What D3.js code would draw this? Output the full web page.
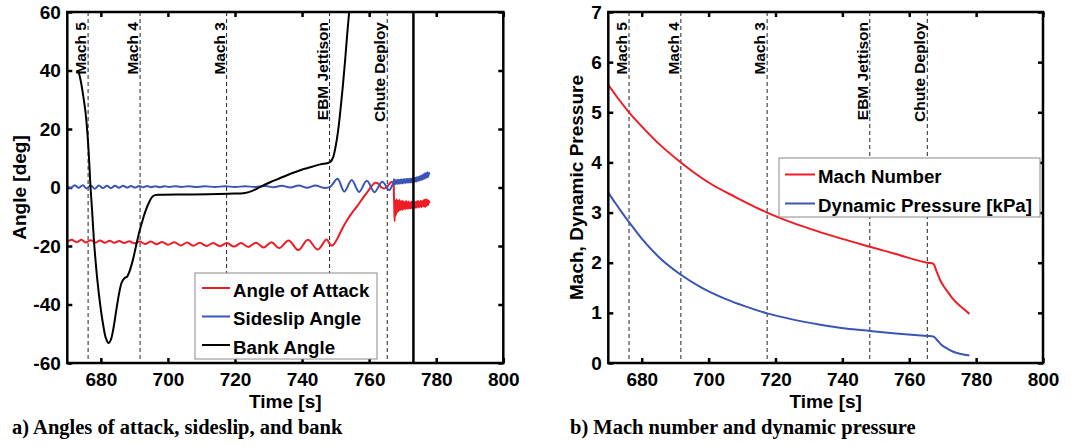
<!DOCTYPE html>
<html><head><meta charset="utf-8">
<script src="https://cdn.jsdelivr.net/npm/d3@7"></script>
<style>
body{margin:0;background:#fff;}
svg{display:block;}
text{font-family:"Liberation Sans",Arial,Helvetica,sans-serif;font-weight:bold;fill:#000;}
</style></head><body>
<svg id="c" width="1082" height="446"></svg>
<script>
// ---------- data ----------
const xTicks = [680,700,720,740,760,780,800];
const xTickLabels = ["680","700","720","740","760","780","800"];
const angleTicks = [-60,-40,-20,0,20,40,60];
const angleTickLabels = ["-60","-40","-20","0","20","40","60"];
const machTicks = [0,1,2,3,4,5,6,7];
const machTickLabels = ["0","1","2","3","4","5","6","7"];
const eventNames = ["Mach 5","Mach 4","Mach 3","EBM Jettison","Chute Deploy"];
const eventTimes = [676.2,691.7,717.5,748.2,765.4];
const lossTime = 773.2;
const legendA = ["Angle of Attack","Sideslip Angle","Bank Angle"];
const legendB = ["Mach Number","Dynamic Pressure [kPa]"];
const captionA = "a) Angles of attack, sideslip, and bank";
const captionB = "b) Mach number and dynamic pressure";

// angle of attack [time s, deg]
const aoa = [[670,-18.6],[671.3,-17.9],[672.8,-18.7],[674.2,-17.9],[675.6,-18.8],[677.0,-18.0],[678.4,-18.8],[679.8,-18.1],
 [681.2,-18.9],[682.6,-18.2],[684.0,-18.9],[685.5,-18.3],[687.0,-19.0],[688.5,-18.4],[690.0,-19.1],[691.6,-18.5],
 [693.2,-19.3],[694.9,-18.5],[696.6,-19.4],[698.3,-18.6],[700.1,-19.6],[701.9,-18.7],[703.8,-19.8],[705.7,-18.8],
 [707.6,-19.9],[709.5,-18.9],[711.5,-20.0],[713.5,-19.0],[715.5,-20.1],[717.6,-19.0],[719.7,-20.2],[721.8,-19.0],
 [724.0,-20.3],[726.3,-18.9],[728.6,-20.5],[730.9,-18.7],[733.2,-20.7],[736.0,-18.1],[738.9,-21.4],[741.7,-17.9],
 [744.7,-21.2],[747.3,-17.8],[748.6,-19.8],[749.3,-19.6],[750.5,-17.5],[752.0,-14.0],[753.5,-11.0],[755.0,-8.5],
 [756.5,-6.3],[758.0,-3.8],[759.5,-1.5],[760.8,0.6],[761.8,1.6],[762.7,1.3],[763.7,0.0],[764.6,-0.3],[765.6,0.6],
 [766.5,1.8],[767.1,1.6],[767.4,-3.0],[767.6,-11.5],[767.8,-4.5],[768.0,-9.5],[768.2,-4.0],[768.4,-8.5],[768.6,-4.5],
 [768.8,-8.0],[769.0,-4.2],[769.2,-7.8],[769.4,-4.8],[769.6,-7.5],[769.8,-4.5],[770.0,-7.6],[770.2,-4.8],[770.4,-7.2],
 [770.6,-5.0],[770.8,-7.4],[771.0,-4.6],[771.2,-7.0],[771.4,-5.0],[771.6,-7.3],[771.8,-4.8],[772.0,-7.0],[772.2,-5.2],
 [772.4,-7.2],[772.6,-4.9],[772.8,-6.9],[773.0,-5.1],[773.2,-7.1],[773.4,-4.7],[773.6,-6.8],[773.8,-5.0],[774.0,-7.0],
 [774.2,-4.8],[774.4,-6.6],[774.6,-4.6],[774.8,-6.8],[775.0,-4.9],[775.2,-6.5],[775.4,-4.5],[775.6,-6.7],[775.8,-4.7],
 [776.0,-6.4],[776.2,-4.4],[776.4,-6.5],[776.6,-4.2],[776.8,-6.6],[777.0,-4.0],[777.2,-6.2],[777.4,-4.3],[777.6,-6.0],
 [777.8,-4.5],[778.0,-5.3]];

// sideslip angle [time s, deg]
const sideslip = [[670,0.5],[671.0,-0.2],[672.2,0.8],[673.4,-0.1],[674.6,0.8],[675.8,-0.3],[677.0,0.7],[678.2,-0.4],
 [679.4,0.7],[680.6,-0.2],[681.8,0.6],[683.0,-0.2],[684.2,0.6],[685.4,-0.1],[686.6,0.6],[687.8,0.0],[689.0,0.5],
 [690.2,0.0],[691.4,0.5],[692.6,0.1],[693.8,0.5],[695.0,0.1],[696.2,0.4],[697.6,0.1],[699.0,0.4],[700.4,0.2],
 [702.0,0.4],[704.0,0.2],[706.0,0.4],[708.0,0.2],[711.0,0.4],[714.0,0.2],[717.0,0.4],[720.0,0.2],[723.0,0.4],
 [726.0,0.2],[729.0,0.5],[731.5,0.1],[734.0,0.6],[736.5,0.0],[739.0,0.7],[741.5,-0.1],[744.0,0.7],[746.3,-0.1],
 [748.2,0.1],[749.0,1.0],[750.6,3.0],[752.6,-1.4],[754.8,2.6],[757.0,-1.5],[759.3,2.3],[761.6,-1.6],[763.9,2.0],
 [766.0,-0.9],[767.0,1.0],[767.2,1.2],[767.4,2.8],[767.6,1.0],[767.8,2.6],[768.0,1.3],[768.2,2.5],[768.4,1.2],
 [768.6,2.7],[768.8,1.4],[769.0,2.6],[769.2,1.3],[769.4,2.7],[769.6,1.5],[769.8,2.8],[770.0,1.4],[770.2,2.7],
 [770.4,1.6],[770.6,2.9],[770.8,1.5],[771.0,2.8],[771.2,1.7],[771.4,3.0],[771.6,1.6],[771.8,2.9],[772.0,1.8],
 [772.2,3.1],[772.4,1.7],[772.6,3.0],[772.8,1.9],[773.0,3.2],[773.2,1.8],[773.4,3.2],[773.6,2.0],[773.8,3.3],
 [774.0,2.0],[774.2,3.5],[774.4,2.2],[774.6,3.6],[774.8,2.3],[775.0,3.8],[775.2,2.5],[775.4,4.0],[775.6,2.6],
 [775.8,4.2],[776.0,2.8],[776.2,4.5],[776.4,3.0],[776.6,4.8],[776.8,3.2],[777.0,5.0],[777.2,3.4],[777.4,5.2],
 [777.6,3.6],[777.8,5.0],[778.0,4.4]];

// bank angle [time s, deg]
const bank = [[673.3,40],[674.0,36.5],[674.8,31],[675.4,26],[676.0,18.5],[676.5,9.5],[676.9,0.5],[677.4,-8],
 [678.0,-19],[678.9,-31],[679.8,-40],[680.7,-47],[681.5,-51.5],[682.3,-53.2],[683.0,-52],[683.7,-48.5],
 [684.6,-42],[685.4,-36.5],[686.2,-32.5],[687.0,-31],[687.8,-30.5],[688.6,-28.5],[689.5,-25],[690.5,-20],
 [691.5,-15],[692.5,-11],[693.5,-7.5],[694.5,-4.8],[695.3,-3.2],[696.2,-2.6],[698,-2.5],[705,-2.4],[712,-2.3],
 [718,-2.1],[723,-1.9],[725.5,-1.0],[728,0.5],[730.5,1.8],[733,3.0],[735.5,4.2],[738,5.3],[740.5,6.3],[743,7.1],
 [745.5,7.9],[747.5,8.3],[748.5,8.8],[749.3,10.5],[750,14],[750.7,19],[751.4,26],[752.1,34],[752.8,43],
 [753.5,53],[754.2,62],[754.8,70]];

// Mach number [time s, -]
const mach = [[670,5.55],[673,5.27],[676.2,5.0],[680,4.72],[685,4.38],[691.7,4.0],[700,3.6],[708,3.31],
 [717.5,3.0],[725,2.8],[732,2.64],[740,2.475],[748.2,2.32],[756,2.175],[765.4,2.0],[767.2,1.98],[768.2,1.82],
 [769.2,1.66],[770.2,1.54],[771.5,1.42],[772.8,1.3],[774.5,1.18],[776.2,1.08],[778,0.98]];

// dynamic pressure [time s, kPa]
const qbar = [[670,3.4],[672,3.2],[674,3.01],[676.2,2.81],[680,2.48],[685,2.12],[691.7,1.76],[698,1.5],
 [705,1.28],[711,1.13],[717.5,0.99],[725,0.87],[733,0.77],[741,0.69],[748.2,0.64],[756,0.59],[765.4,0.54],
 [767.2,0.53],[768.3,0.46],[769.5,0.37],[771,0.3],[773,0.23],[775.5,0.18],[778,0.15]];

// ---------- drawing ----------
const RED = "#ee1c25", BLUE = "#3a55b4";
const svg = d3.select("#c");
const plotTop = 12, plotBottom = 363;

function panel(id, left, right, yDomain, yTicks, yTickLabels) {
  const g = svg.append("g");
  const x = d3.scaleLinear().domain([670,800]).range([left,right]);
  const y = d3.scaleLinear().domain(yDomain).range([plotBottom,plotTop]);
  g.append("clipPath").attr("id","clip"+id).append("rect")
    .attr("x",left).attr("y",plotTop).attr("width",right-left).attr("height",plotBottom-plotTop);
  const ev = g.append("g");
  eventTimes.forEach((t,i)=>{
    ev.append("line").attr("x1",x(t)).attr("x2",x(t)).attr("y1",plotTop).attr("y2",plotBottom)
      .attr("stroke","#222").attr("stroke-width",1).attr("stroke-dasharray","4,3");
    ev.append("text").attr("transform",`translate(${x(t)-2},22) rotate(-90)`)
      .attr("text-anchor","end").style("font-size","15.5px").text(eventNames[i]);
  });
  const ax = g.append("g").attr("transform",`translate(0,${plotBottom})`)
    .call(d3.axisBottom(x).tickValues(xTicks).tickSize(-5).tickPadding(10).tickFormat((d)=>xTickLabels[xTicks.indexOf(d)]));
  const axT = g.append("g").attr("transform",`translate(0,${plotTop})`)
    .call(d3.axisTop(x).tickValues(xTicks).tickSize(-5).tickFormat(""));
  const ay = g.append("g").attr("transform",`translate(${left},0)`)
    .call(d3.axisLeft(y).tickValues(yTicks).tickSize(-5).tickPadding(6.5).tickFormat((d)=>yTickLabels[yTicks.indexOf(d)]));
  const ayR = g.append("g").attr("transform",`translate(${right},0)`)
    .call(d3.axisRight(y).tickValues(yTicks).tickSize(-5).tickFormat(""));
  [ax,axT,ay,ayR].forEach(a=>{
    a.select(".domain").remove();
    a.selectAll(".tick line").attr("stroke","#000").attr("stroke-width",2.5);
    a.selectAll("text").style("font-size","19px").attr("font-family",null).attr("fill","#000");
  });
  g.append("text").attr("x",(left+right)/2).attr("y",408).attr("text-anchor","middle")
    .style("font-size","19px").text("Time [s]");
  const plot = g.append("g").attr("clip-path",`url(#clip${id})`);
  return {g, x, y, plot, left, right};
}

function drawLine(p, data, color, curve) {
  const line = d3.line().x(d=>p.x(d[0])).y(d=>p.y(d[1])).curve(curve);
  p.plot.append("path").datum(data).attr("d",line).attr("fill","none")
    .attr("stroke",color).attr("stroke-width",2).attr("stroke-linejoin","round");
}

function frame(p) {
  p.g.append("rect").attr("x",p.left).attr("y",plotTop).attr("width",p.right-p.left).attr("height",plotBottom-plotTop)
    .attr("fill","none").attr("stroke","#000").attr("stroke-width",2.5);
}

function legend(p, bx, by, bw, bh, rows, names, colors, lx1, lx2, tx) {
  const lg = p.g.append("g");
  lg.append("rect").attr("x",bx).attr("y",by).attr("width",bw).attr("height",bh)
    .attr("fill","#fff").attr("stroke","#8a8a8a").attr("stroke-width",1);
  names.forEach((n,i)=>{
    lg.append("line").attr("x1",lx1).attr("x2",lx2).attr("y1",rows[i]-2).attr("y2",rows[i]-2)
      .attr("stroke",colors[i]).attr("stroke-width",2);
    lg.append("text").attr("x",tx).attr("y",rows[i]+6.8).style("font-size","18.7px").text(n);
  });
}

// Panel A
const A = panel("A", 67.3, 503.3, [-60,60], angleTicks, angleTickLabels);
A.g.append("line").attr("x1",A.x(lossTime)).attr("x2",A.x(lossTime)).attr("y1",plotTop).attr("y2",plotBottom)
  .attr("stroke","#000").attr("stroke-width",2.5);
drawLine(A, aoa, RED, d3.curveCatmullRom.alpha(0.5));
drawLine(A, sideslip, BLUE, d3.curveCatmullRom.alpha(0.5));
drawLine(A, bank, "#000", d3.curveCatmullRom.alpha(0.5));
legend(A, 195, 273, 182, 86, [290,318.5,347], legendA, [RED,BLUE,"#000"], 202, 230, 233);
frame(A);
A.g.append("text").attr("transform","translate(26,187.5) rotate(-90)").attr("text-anchor","middle")
  .style("font-size","19px").text("Angle [deg]");

// Panel B
const B = panel("B", 608.3, 1043, [0,7], machTicks, machTickLabels);
drawLine(B, mach, RED, d3.curveMonotoneX);
drawLine(B, qbar, BLUE, d3.curveMonotoneX);
legend(B, 779, 158, 261, 59, [176.5,205.5], legendB, [RED,BLUE], 785, 815, 818);
frame(B);
B.g.append("text").attr("transform","translate(583,187.5) rotate(-90)").attr("text-anchor","middle")
  .style("font-size","19px").text("Mach, Dynamic Pressure");

svg.append("text").attr("x",12).attr("y",434).style("font-family","'Liberation Serif','Times New Roman',serif")
  .style("font-size","20.5px").text(captionA);
svg.append("text").attr("x",570).attr("y",434).style("font-family","'Liberation Serif','Times New Roman',serif")
  .style("font-size","20.5px").text(captionB);
</script>
</body></html>
